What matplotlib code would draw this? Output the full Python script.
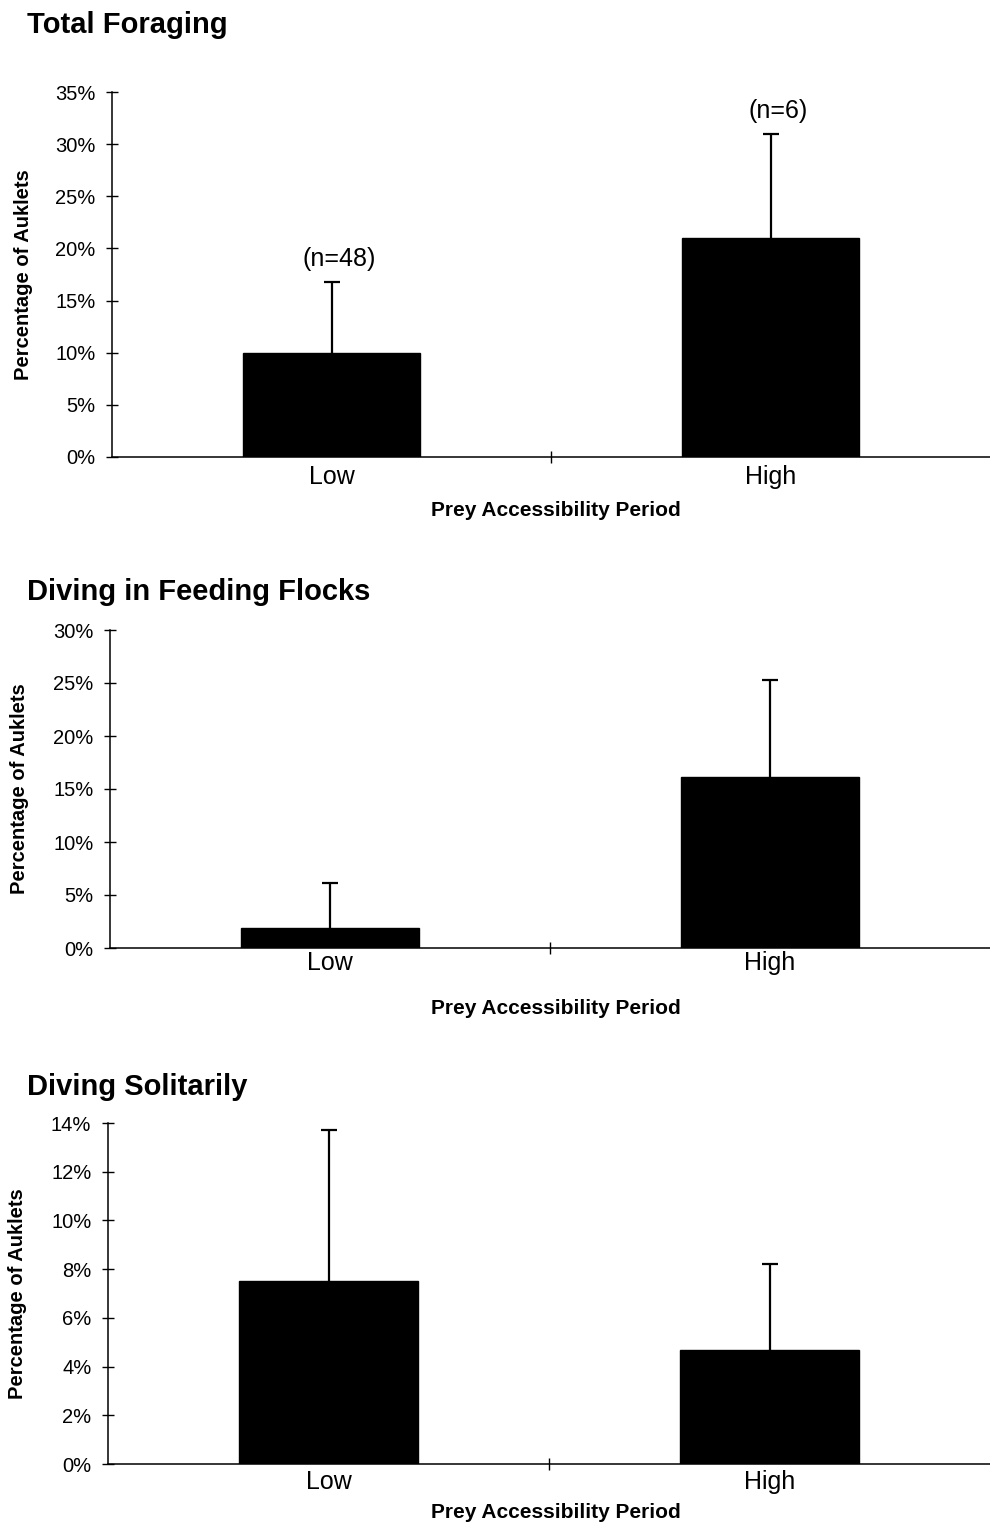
import matplotlib
matplotlib.use("Agg")
import matplotlib.pyplot as plt
from matplotlib.ticker import FuncFormatter

plt.rcParams['font.family'] = ['Liberation Sans', 'DejaVu Sans']

# ---- data ----
categories = ["Low", "High"]
titles = ["Total Foraging", "Diving in Feeding Flocks", "Diving Solitarily"]
total_vals = [10.0, 21.0]
total_err = [6.8, 10.0]
flock_vals = [1.9, 16.1]
flock_err = [4.2, 9.2]
solo_vals = [7.5, 4.7]
solo_err = [6.2, 3.5]
sample_sizes = ["(n=48)", "(n=6)"]
ymaxes = [35, 30, 14]
ysteps = [5, 5, 2]
ylabel = "Percentage of Auklets"
xlabel = "Prey Accessibility Period"

W, H = 990, 1526
fig = plt.figure(figsize=(W / 100, H / 100), dpi=100)

# layout in pixels: (left, top_y, bottom_y, title_y, ylabel_x, xlabel_y, catpad)
layout = [
    (112, 92, 457, 25, 24, 511, 6.0),
    (110, 630, 948, 592, 20, 1009, 2.0),
    (108, 1123, 1464, 1087, 18, 1512, 4.0),
]
series = [(total_vals, total_err), (flock_vals, flock_err), (solo_vals, solo_err)]

for i, ((vals, errs), (lpx, tpx, bpx, ty, ylx, xly, cpad)) in enumerate(zip(series, layout)):
    right = 990
    ax = fig.add_axes([lpx / W, 1 - bpx / H, (right - lpx) / W, (bpx - tpx) / H])
    x = list(range(len(categories)))
    ax.bar(x, vals, width=0.405, color='black', edgecolor='black', zorder=2)
    eb = ax.errorbar(x, vals, yerr=[[0] * len(errs), errs], fmt='none', ecolor='black',
                     elinewidth=1.6, capsize=6, capthick=1.6, zorder=3)
    eb[1][0].set_visible(False)  # hide lower caps
    ax.set_xlim(-0.5, 1.5)
    ax.set_ylim(0, ymaxes[i])
    for s in ['top', 'right']:
        ax.spines[s].set_visible(False)
    for s in ['left', 'bottom']:
        ax.spines[s].set_linewidth(1.1)
    ax.set_yticks(range(0, ymaxes[i] + 1, ysteps[i]))
    ax.yaxis.set_major_formatter(FuncFormatter(lambda v, p: f"{int(v)}%"))
    ax.tick_params(axis='y', direction='inout', length=8, width=1.0, pad=8, labelsize=14.5)
    ax.set_xticks([0.5])
    ax.set_xticklabels([""])
    ax.tick_params(axis='x', which='major', direction='inout', length=9, width=1.0)
    ax.set_xticks(x, categories, minor=True)
    ax.tick_params(axis='x', which='minor', length=0, pad=cpad, labelsize=18)

    ax_h = bpx - tpx
    ax_w = right - lpx
    ax.set_ylabel(ylabel, fontsize=14.5, fontweight='bold')
    ax.yaxis.set_label_coords((ylx - lpx) / ax_w, 0.5)
    ax.yaxis.label.set_va('center')
    ax.set_xlabel(xlabel, fontsize=15, fontweight='bold')
    ax.xaxis.set_label_coords((556 - lpx) / ax_w, -(xly - bpx) / ax_h)
    ax.xaxis.label.set_va('center')

    fig.text(27 / W, 1 - ty / H, titles[i], fontsize=21, fontweight='bold', ha='left', va='center')

    if i == 0:
        for xi, v, e, lab in zip(x, vals, errs, sample_sizes):
            ax.annotate(lab, (xi, v + e), xytext=(8, 23), textcoords='offset pixels',
                        ha='center', va='center', fontsize=18)

fig.savefig("out.png", dpi=100)
